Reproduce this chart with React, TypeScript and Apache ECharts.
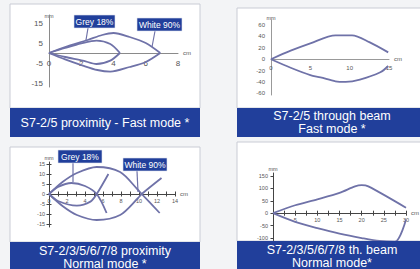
import React, { useEffect, useRef } from "react";
import * as echarts from "echarts";

const FONT = "'Liberation Sans', Arial, sans-serif";
const CURVE = "#6f72a8";
const BLUE = "#213f9b";

// Panel 1: S7-2/5 proximity - Fast mode
const p1XLabels = [0, 2, 4, 6, 8];
const p1YLabels = [-15, -5, 5, 15];
const p1WhiteUpper = [[0, 0], [1, 3], [2.4, 6.5], [3.3, 9], [4, 10], [5, 8], [6, 5], [6.9, 0]];
const p1WhiteLower = [[0, 0], [1, -3.2], [2.1, -6.3], [3, -8.5], [3.8, -9.3], [5, -7], [6, -4.5], [6.9, 0]];
const p1GreyUpper = [[0, 0], [1, 2.5], [2, 4.8], [2.95, 6.2], [3.8, 4.5], [4.4, 0]];
const p1GreyLower = [[0, 0], [1, -2], [2.1, -3.8], [2.95, -5.5], [3.8, -3.8], [4.4, 0]];

// Panel 2: S7-2/5 through beam - Fast mode
const p2XLabels = [0, 5, 10, 15];
const p2YLabels = [-60, -40, -20, 0, 20, 40, 60];
const p2Upper = [[0, 0], [2.5, 15], [5, 28], [8.2, 42], [10.3, 42], [12.5, 30], [14.9, 12]];
const p2Lower = [[0, 0], [2.5, -15], [5, -28], [6.3, -32], [8.2, -39], [9.5, -40], [11.3, -36], [13.9, -23], [14.9, -12]];

// Panel 3: S7-2/3/5/6/7/8 proximity - Normal mode
const p3XLabels = [0, 2, 4, 6, 8, 10, 12, 14];
const p3XTicks = [1, 2, 3, 4, 5, 6, 7, 8, 9, 10, 11, 12, 13, 14];
const p3YLabels = [-15, -10, -5, 0, 5, 10, 15];
const p3GreyUpper = [[0, 0], [1, 3.5], [2.5, 5.5], [4, 4], [5.3, 0], [6.4, -9.5]];
const p3GreyLower = [[0, 0], [1, -3.5], [3.1, -5.8], [4.6, -3.8], [5.3, 0], [6.6, 10]];
const p3WhiteUpper = [[0, 0], [1.5, 6], [3.1, 10.5], [5.3, 13.5], [7.9, 11], [9.9, 2], [10.3, 0], [12.3, -9.5]];
const p3WhiteLower = [[0, 0], [1.5, -6], [3.1, -10.5], [5.3, -13], [7.9, -10.5], [9.9, -2], [10.3, 0], [12.5, 8]];

// Panel 4: S7-2/3/5/6/7/8 th. beam - Normal mode
const p4XLabels = [5, 10, 15, 20, 25, 30];
const p4XTicks = [2.5, 5, 7.5, 10, 12.5, 15, 17.5, 20, 22.5, 25, 27.5, 30];
const p4YLabels = [-100, -50, 0, 50, 100, 150];
const p4Upper = [[0, 0], [5, 32], [10, 56], [15, 82], [18.5, 108], [20, 113], [21.5, 108], [30, 22]];
const p4Lower = [[0, 0], [5, -35], [10, -60], [15, -82], [20, -100], [24, -112], [27.5, -115], [30, -25]];

const titles = [
  "S7-2/5 proximity - Fast mode *",
  "S7-2/5 through beam\nFast mode *",
  "S7-2/3/5/6/7/8 proximity\nNormal mode *",
  "S7-2/3/5/6/7/8 th. beam\nNormal mode*",
];

// grid geometry: [left, top, width, height]
const G = [
  [49, 15, 129, 72],
  [271, 20, 118, 75],
  [49, 162, 126, 65],
  [273, 173, 135, 67.5],
];
const YR = [
  [-17, 19],
  [-63, 69],
  [-16.5, 16],
  [-110, 162],
];
const XR = [
  [0, 8],
  [0, 15],
  [0, 14],
  [0, 30],
];
// distance (px) from grid bottom up to the value 0 of the y axis
function zeroFromBottom(i: number) {
  const [lo, hi] = YR[i];
  return (-lo / (hi - lo)) * G[i][3];
}

function line(data: number[][], xi: number, yi: number) {
  return {
    type: "line",
    xAxisIndex: xi,
    yAxisIndex: yi,
    data,
    showSymbol: false,
    smooth: 0.3,
    lineStyle: { color: CURVE, width: 1.8 },
    silent: true,
  };
}

function xAx(grid: number, labels: number[], fs: number, margin: number, color: string, ticks?: number[]) {
  return {
    gridIndex: grid,
    type: "value",
    min: XR[grid][0],
    max: XR[grid][1],
    position: "bottom",
    offset: -zeroFromBottom(grid),
    axisLine: { onZero: false, lineStyle: { color, width: 1 } },
    axisTick: ticks ? { show: true, customValues: ticks, length: 2.5, lineStyle: { color } } : { show: false },
    splitLine: { show: false },
    axisLabel: { customValues: labels, fontSize: fs, color: "#555", margin, fontFamily: FONT },
    name: "cm",
    nameLocation: "end",
    nameGap: 5,
    nameTextStyle: { fontSize: 6, color: "#555", fontFamily: FONT },
  };
}

function yAx(grid: number, labels: number[], fs: number, margin: number, color: string, nameGap: number, ticks?: number[]) {
  return {
    gridIndex: grid,
    type: "value",
    min: YR[grid][0],
    max: YR[grid][1],
    position: "left",
    axisLine: { onZero: false, lineStyle: { color, width: 1 } },
    axisTick: ticks ? { show: true, customValues: ticks, length: 2.5, lineStyle: { color } } : { show: false },
    splitLine: { show: false },
    axisLabel: { customValues: labels, fontSize: fs, color: "#555", margin, fontFamily: FONT },
    name: "mm",
    nameLocation: "end",
    nameGap,
    nameTextStyle: { fontSize: 5.5, color: "#555", fontFamily: FONT },
  };
}

// extra axes used only to draw the upper / right half of the crossing tick marks
function tickX(grid: number, ticks: number[], color: string) {
  return {
    gridIndex: grid,
    type: "value",
    min: XR[grid][0],
    max: XR[grid][1],
    position: "top",
    offset: -(G[grid][3] - zeroFromBottom(grid)),
    axisLine: { show: false, onZero: false },
    axisTick: { show: true, customValues: ticks, length: 2.5, lineStyle: { color } },
    axisLabel: { show: false },
    splitLine: { show: false },
  };
}

function tickY(grid: number, ticks: number[], color: string) {
  return {
    gridIndex: grid,
    type: "value",
    min: YR[grid][0],
    max: YR[grid][1],
    position: "right",
    offset: -G[grid][2],
    axisLine: { show: false, onZero: false },
    axisTick: { show: true, customValues: ticks, length: 2.5, lineStyle: { color } },
    axisLabel: { show: false },
    splitLine: { show: false },
  };
}

function panelBox(x: number, y: number, w: number, h: number) {
  return { type: "rect", shape: { x, y, width: w, height: h }, style: { fill: "#ffffff", stroke: "#c9ccd5", lineWidth: 1 }, z: -10 };
}
function bar(x: number, y: number, w: number, h: number, text: string, cx: number) {
  return [
    { type: "rect", shape: { x, y, width: w, height: h }, style: { fill: BLUE }, z: 50 },
    {
      type: "text",
      x: cx,
      y: y + h / 2,
      z: 51,
      style: { text, fill: "#ffffff", fontSize: 12.5, fontFamily: FONT, align: "center", verticalAlign: "middle", lineHeight: 13 },
    },
  ];
}
function callout(x: number, y: number, w: number, h: number, text: string, lx1: number, ly1: number, lx2: number, ly2: number) {
  return [
    { type: "line", shape: { x1: lx1, y1: ly1, x2: lx2, y2: ly2 }, style: { stroke: CURVE, lineWidth: 1.2 }, z: 40 },
    { type: "rect", shape: { x, y, width: w, height: h }, style: { fill: BLUE, stroke: "#dfe3ef", lineWidth: 0.6 }, z: 50 },
    {
      type: "text",
      x: x + w / 2,
      y: y + h / 2,
      z: 51,
      style: { text, fill: "#ffffff", fontSize: 8.5, fontFamily: FONT, align: "center", verticalAlign: "middle" },
    },
  ];
}

const option = {
  animation: false,
  backgroundColor: "#f3f4f6",
  grid: G.map(([left, top, width, height]) => ({ left, top, width, height })),
  xAxis: [
    xAx(0, p1XLabels, 8, 6, "#8a8a8a"),
    xAx(1, p2XLabels, 6, 6, "#999999"),
    xAx(2, p3XLabels, 5.5, 4, "#444444", p3XTicks),
    tickX(2, p3XTicks, "#444444"),
    xAx(3, p4XLabels, 5.5, 4, "#444444", p4XTicks),
    tickX(3, p4XTicks, "#444444"),
  ],
  yAxis: [
    yAx(0, p1YLabels, 8, 6, "#8a8a8a", -4),
    yAx(1, p2YLabels, 6, 6, "#999999", -1),
    yAx(2, p3YLabels, 5.5, 4, "#444444", -1, p3YLabels),
    tickY(2, p3YLabels, "#444444"),
    yAx(3, p4YLabels, 5.5, 5, "#444444", 1, p4YLabels),
    tickY(3, p4YLabels, "#444444"),
  ],
  series: [
    line(p1WhiteUpper, 0, 0),
    line(p1WhiteLower, 0, 0),
    line(p1GreyUpper, 0, 0),
    line(p1GreyLower, 0, 0),
    line(p2Upper, 1, 1),
    line(p2Lower, 1, 1),
    line(p3GreyUpper, 2, 2),
    line(p3GreyLower, 2, 2),
    line(p3WhiteUpper, 2, 2),
    line(p3WhiteLower, 2, 2),
    line(p4Upper, 4, 4),
    line(p4Lower, 4, 4),
  ],
  graphic: {
    elements: [
      panelBox(10, 4, 190, 104),
      panelBox(237, 8, 190, 100),
      panelBox(10, 147, 190, 95),
      panelBox(237, 142, 190, 99),
      ...bar(10, 108, 190, 29, titles[0], 105),
      ...bar(237, 108, 190, 29, titles[1], 332),
      ...bar(10, 242, 190, 30, titles[2], 105),
      ...bar(237, 241, 190, 30, titles[3], 332),
      ...callout(74, 15, 41, 13, "Grey 18%", 88, 28, 86, 40),
      ...callout(137, 18, 45, 13, "White 90%", 155, 31, 152, 47),
      ...callout(58, 150, 44, 13, "Grey 18%", 73, 163, 73, 182),
      ...callout(123, 158, 44, 13, "White 90%", 137, 171, 138, 192),
    ],
  },
};

export default function App() {
  const ref = useRef<HTMLDivElement>(null);
  useEffect(() => {
    const chart = echarts.init(ref.current!, null, { renderer: "svg" });
    chart.setOption(option as any);
    return () => chart.dispose();
  }, []);
  return <div ref={ref} style={{ position: "fixed", left: 0, top: 0, width: 420, height: 269 }} />;
}
